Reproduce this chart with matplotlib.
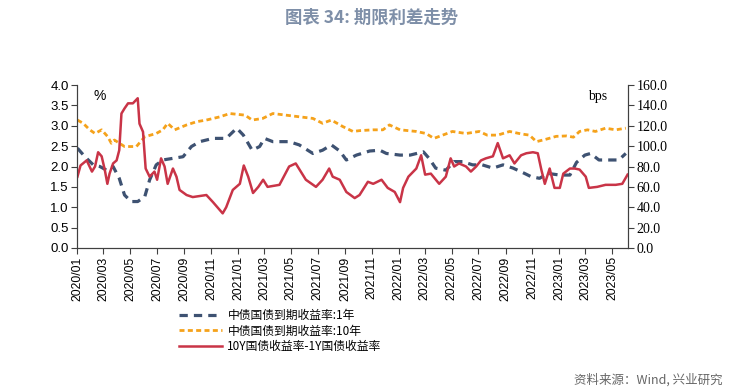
import pandas as pd
import numpy as np
import matplotlib
matplotlib.use('Agg')
import matplotlib.pyplot as plt
import matplotlib.dates as mdates

plt.rcParams['font.family'] = ['Noto Sans CJK SC', 'DejaVu Sans']

# 中债国债到期收益率:1年 (%)
y1_dates = ['2020-01-02', '2020-01-19', '2020-02-07', '2020-02-22', '2020-03-08', '2020-03-23',
            '2020-04-06', '2020-04-18', '2020-05-03', '2020-05-18', '2020-06-03', '2020-06-14',
            '2020-06-29', '2020-07-14', '2020-08-06', '2020-08-29', '2020-09-17', '2020-10-06',
            '2020-11-05', '2020-12-05', '2020-12-29', '2021-01-13', '2021-02-02', '2021-02-19',
            '2021-03-02', '2021-03-21', '2021-04-27', '2021-05-20', '2021-06-20', '2021-07-12',
            '2021-08-01', '2021-08-20', '2021-09-04', '2021-09-27', '2021-10-27', '2021-11-19',
            '2021-12-04', '2022-01-04', '2022-01-27', '2022-02-26', '2022-03-11', '2022-03-26',
            '2022-04-18', '2022-05-07', '2022-05-26', '2022-06-18', '2022-07-10', '2022-08-03',
            '2022-08-26', '2022-09-18', '2022-10-14', '2022-10-29', '2022-11-17', '2022-12-06',
            '2023-01-02', '2023-01-25', '2023-02-09', '2023-02-28', '2023-03-13', '2023-04-01',
            '2023-04-24', '2023-05-16', '2023-06-01']
y1_vals = [2.45, 2.24, 2.04, 2.00, 1.91, 2.00,
           1.71, 1.30, 1.14, 1.14, 1.26, 1.67,
           2.04, 2.16, 2.20, 2.24, 2.49, 2.61,
           2.69, 2.69, 2.94, 2.77, 2.40, 2.49,
           2.69, 2.61, 2.61, 2.53, 2.32, 2.40,
           2.53, 2.38, 2.16, 2.28, 2.38, 2.40,
           2.32, 2.28, 2.28, 2.36, 2.20, 1.96,
           1.91, 2.12, 2.12, 2.04, 2.04, 1.96,
           2.04, 1.96, 1.83, 1.75, 1.71, 1.83,
           1.79, 1.79, 2.10, 2.28, 2.32, 2.16,
           2.16, 2.16, 2.32]

# 中债国债到期收益率:10年 (%)
y10_dates = ['2020-01-02', '2020-01-15', '2020-01-30', '2020-02-11', '2020-02-26', '2020-03-11',
             '2020-03-19', '2020-03-26', '2020-04-18', '2020-05-15', '2020-06-03', '2020-06-29',
             '2020-07-14', '2020-07-25', '2020-08-10', '2020-09-06', '2020-09-29', '2020-10-21',
             '2020-11-21', '2020-12-13', '2021-01-17', '2021-02-02', '2021-02-26', '2021-03-21',
             '2021-04-20', '2021-05-20', '2021-06-20', '2021-07-12', '2021-08-01', '2021-08-27',
             '2021-09-19', '2021-10-04', '2021-11-04', '2021-11-26', '2021-12-11', '2022-01-04',
             '2022-02-10', '2022-03-04', '2022-03-22', '2022-04-11', '2022-05-03', '2022-06-03',
             '2022-07-03', '2022-07-21', '2022-08-14', '2022-09-10', '2022-10-06', '2022-10-25',
             '2022-11-10', '2022-12-02', '2022-12-25', '2023-01-17', '2023-02-02', '2023-02-16',
             '2023-03-06', '2023-03-24', '2023-04-16', '2023-05-09', '2023-06-01']
y10_vals = [3.14, 3.06, 2.90, 2.81, 2.90, 2.73,
            2.57, 2.65, 2.49, 2.49, 2.73, 2.81,
            2.90, 3.06, 2.90, 3.02, 3.10, 3.14,
            3.22, 3.30, 3.26, 3.14, 3.18, 3.30,
            3.26, 3.22, 3.18, 3.06, 3.14, 2.98,
            2.86, 2.88, 2.90, 2.90, 3.02, 2.90,
            2.86, 2.81, 2.69, 2.77, 2.86, 2.81,
            2.86, 2.77, 2.77, 2.86, 2.80, 2.77,
            2.61, 2.67, 2.74, 2.75, 2.72, 2.86,
            2.90, 2.86, 2.94, 2.90, 2.94]

# 10Y国债收益率-1Y国债收益率 (bps)
sp_dates = ['2020-01-02', '2020-01-09', '2020-01-23', '2020-02-04', '2020-02-11', '2020-02-18',
            '2020-02-26', '2020-03-04', '2020-03-10', '2020-03-15', '2020-03-23', '2020-03-31',
            '2020-04-06', '2020-04-11', '2020-04-18', '2020-04-26', '2020-05-07', '2020-05-18',
            '2020-05-22', '2020-05-30', '2020-06-05', '2020-06-14', '2020-06-25', '2020-07-01',
            '2020-07-10', '2020-07-18', '2020-07-25', '2020-08-06', '2020-08-14', '2020-08-21',
            '2020-09-06', '2020-09-20', '2020-10-21', '2020-11-05', '2020-11-27', '2020-12-05',
            '2020-12-20', '2021-01-05', '2021-01-14', '2021-01-24', '2021-02-04', '2021-02-16',
            '2021-02-27', '2021-03-09', '2021-04-05', '2021-04-27', '2021-05-12', '2021-06-04',
            '2021-06-27', '2021-07-12', '2021-07-27', '2021-08-04', '2021-08-20', '2021-09-04',
            '2021-09-23', '2021-10-04', '2021-10-23', '2021-11-04', '2021-11-23', '2021-12-07',
            '2021-12-23', '2022-01-04', '2022-01-11', '2022-01-23', '2022-02-10', '2022-02-21',
            '2022-03-02', '2022-03-15', '2022-04-03', '2022-04-18', '2022-04-29', '2022-05-07',
            '2022-05-18', '2022-06-03', '2022-06-14', '2022-06-26', '2022-07-07', '2022-07-18',
            '2022-08-03', '2022-08-14', '2022-08-26', '2022-09-10', '2022-09-21', '2022-10-06',
            '2022-10-18', '2022-11-02', '2022-11-13', '2022-11-21', '2022-11-29', '2022-12-10',
            '2022-12-21', '2023-01-02', '2023-01-10', '2023-01-25', '2023-02-05', '2023-02-16',
            '2023-03-02', '2023-03-09', '2023-03-28', '2023-04-16', '2023-05-09', '2023-05-24',
            '2023-06-05']
sp_vals = [70, 81, 86, 75, 80, 94,
           90, 77, 63, 73, 83, 86,
           96, 132, 137, 142, 142, 147,
           122, 114, 78, 70, 75, 67,
           88, 80, 63, 78, 70, 57,
           52, 50, 52, 45, 34, 40,
           57, 63, 81, 70, 54, 60,
           67, 60, 62, 80, 83, 67,
           60, 67, 78, 70, 67, 55,
           49, 52, 65, 63, 67, 59,
           55, 45, 59, 70, 78, 91,
           72, 73, 63, 70, 88, 80,
           83, 80, 75, 80, 86, 88,
           90, 103, 88, 91, 83, 91,
           93, 94, 93, 77, 63, 78,
           59, 59, 73, 78, 78, 77,
           70, 59, 60, 62, 62, 63,
           72]

xtick_labels = ['2020/01', '2020/03', '2020/05', '2020/07', '2020/09', '2020/11',
                '2021/01', '2021/03', '2021/05', '2021/07', '2021/09', '2021/11',
                '2022/01', '2022/03', '2022/05', '2022/07', '2022/09', '2022/11',
                '2023/01', '2023/03', '2023/05']

c_1y = '#3E5272'
c_10y = '#F5A21B'
c_sp = '#C93447'

fig = plt.figure(figsize=(7.31, 3.92), dpi=100)
ax = fig.add_axes([77 / 731, 1 - 248 / 392, (628 - 77) / 731, (248 - 85) / 392])
ax2 = ax.twinx()

l1, = ax.plot(pd.to_datetime(y1_dates), y1_vals, color=c_1y, lw=2.3,
              dashes=(2.6, 1.9), label='中债国债到期收益率:1年')
l2, = ax.plot(pd.to_datetime(y10_dates), y10_vals, color=c_10y, lw=2,
              dashes=(1.8, 1.2), label='中债国债到期收益率:10年')
l3, = ax2.plot(pd.to_datetime(sp_dates), sp_vals, color=c_sp, lw=1.8,
               label='10Y国债收益率-1Y国债收益率')

ax.set_ylim(0, 4)
ax.set_yticks(np.arange(0, 4.01, 0.5))
ax.set_yticklabels(['%.1f' % v for v in np.arange(0, 4.01, 0.5)],
                   family='Liberation Sans', fontsize=9.5)
ax2.set_ylim(0, 160)
ax2.set_yticks(np.arange(0, 161, 20))
ax2.set_yticklabels(['%.1f' % v for v in np.arange(0, 161, 20)],
                    family='Liberation Serif', fontsize=10)

ticks = pd.to_datetime([s.replace('/', '-') + '-01' for s in xtick_labels])
ax.set_xticks(ticks)
ax.set_xticklabels(xtick_labels, rotation=90, family='Liberation Sans', fontsize=8.8)
ax.set_xlim(pd.Timestamp('2020-01-01'), pd.Timestamp('2023-06-06'))

for a in (ax, ax2):
    a.spines['top'].set_visible(False)
    for s in ('left', 'right', 'bottom'):
        a.spines[s].set_color('#404040')
        a.spines[s].set_linewidth(0.8)
ax.tick_params(axis='both', direction='out', length=4, width=0.8, color='#404040', pad=2)
ax2.tick_params(axis='y', direction='out', length=4, width=0.8, color='#404040', pad=2)

ax.text(0.03, 0.93, '%', transform=ax.transAxes, fontsize=10, family='Liberation Sans',
        va='center', ha='left')
ax.text(0.945, 0.93, 'bps', transform=ax.transAxes, fontsize=10, family='Liberation Serif',
        va='center', ha='center')

fig.legend(handles=[l1, l2, l3], loc='upper left', bbox_to_anchor=(179 / 731, 1 - 309 / 392),
           frameon=False, fontsize=8.5, handlelength=3.6, handletextpad=0.5,
           labelspacing=0.22, borderaxespad=0, borderpad=0)

fig.text(372 / 731, 1 - 18 / 392, '图表 34: 期限利差走势', ha='center', va='center',
         fontsize=12.5, fontweight='bold', color='#7E8FA8')
fig.text(723 / 731, 1 - 380 / 392, '资料来源：Wind, 兴业研究', ha='right', va='center',
         fontsize=9, color='#666666')

fig.savefig('out.png', dpi=100)
